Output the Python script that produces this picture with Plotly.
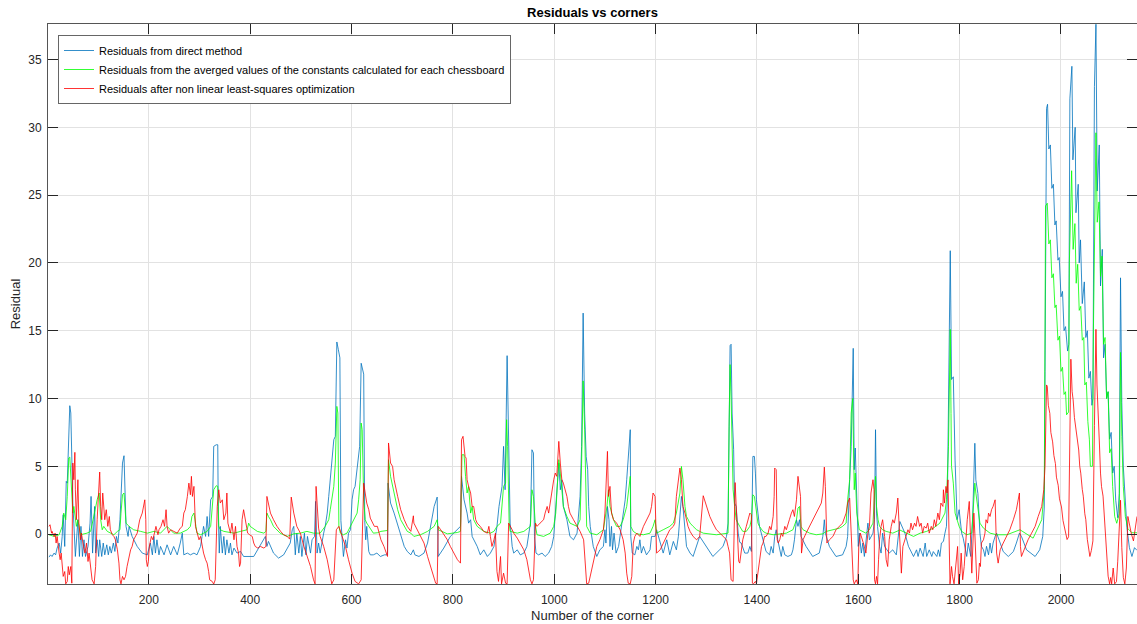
import plotly.graph_objects as go

# ---- data: (corner index, residual) ----
blue_points = [(3,-1.70),(6,-1.53),(9,-1.65),(13,-1.40),(16,-1.53),(19,-1.03),(23,-0.66),(26,-1.40),(29,-0.17),(31,1.43),(34,-0.91),(37,3.89),(39,3.76),(41,5.98),(44,9.47),(46,8.93),(48,4.0),(50,2.29),(52,0.81),(55,-1.65),(60,1.06),(63,-1.65),(66,0.57),(69,-1.65),(72,-0.42),(75,-1.65),(80,-0.91),(84,0.81),(86,2.78),(89,-1.40),(93,2.04),(95,-1.40),(98,-0.42),(101,-1.65),(103,-0.42),(107,-1.65),(110,-0.66),(113,-1.53),(117,-0.79),(120,-1.53),(123,-0.91),(126,-1.40),(130,-0.66),(133,-1.28),(136,-0.17),(139,-0.66),(143,1.06),(145,3.27),(148,5.24),(151,5.78),(153,2.04),(155,0.57),(159,-0.17),(161,0.57),(167,-0.17),(177,-0.91),(187,-1.40),(197,-1.53),(203,-0.66),(207,-1.53),(210,-0.17),(213,-1.40),(216,-0.42),(220,-1.53),(223,-0.91),(230,-1.53),(236,-0.79),(243,-1.53),(249,-0.91),(256,-1.53),(262,-0.66),(266,0.07),(269,-1.53),(276,-1.40),(282,-1.53),(289,-1.40),(295,-1.53),(302,-0.91),(305,-0.17),(308,0.57),(312,-0.17),(315,1.30),(318,-0.17),(322,2.53),(326,2.78),(328,6.47),(333,6.59),(336,6.59),(337,1.55),(339,-1.40),(341,0.57),(345,-1.40),(348,-0.17),(351,-1.53),(354,-0.42),(358,-1.40),(361,-0.66),(364,-1.53),(368,-1.03),(374,-1.40),(381,-1.28),(387,-1.65),(407,-1.65),(427,-0.42),(430,-0.17),(433,-0.91),(436,-0.54),(446,-1.40),(456,-1.77),(466,-1.53),(479,-0.66),(483,0.32),(486,0.57),(489,-1.53),(492,0.07),(496,-1.40),(499,-0.17),(502,-1.65),(507,0.07),(510,-1.53),(513,-0.17),(519,-1.40),(522,-0.42),(527,-0.17),(529,2.41),(532,-1.40),(535,-0.66),(538,-1.40),(542,-0.42),(545,0.07),(548,0.57),(552,1.55),(555,2.78),(558,4.01),(561,5.24),(565,6.96),(568,7.21),(571,14.17),(574,13.6),(577,13.0),(579,1.0),(581,-0.17),(584,-1.65),(588,-0.42),(591,-1.03),(594,0.07),(598,0.32),(601,2.53),(604,3.27),(607,3.52),(611,4.75),(614,5.73),(616,6.47),(619,12.6),(622,12.1),(624,11.8),(626,1.0),(628,-0.42),(630,0.57),(634,-1.28),(637,-1.53),(643,-1.53),(650,-1.40),(657,-1.65),(665,-1.53),(671,-1.53),(672,3.76),(677,2.29),(684,1.55),(690,0.81),(697,-0.17),(704,-0.91),(710,-1.28),(717,-1.53),(722,-1.16),(725,-1.53),(733,-1.65),(743,-1.40),(750,-0.66),(756,0.57),(763,2.04),(769,2.73),(771,-1.65),(782,-1.03),(795,-0.17),(815,0.57),(817,4.26),(822,2.53),(828,1.55),(831,0.81),(835,1.06),(838,-0.17),(848,-0.91),(854,-1.53),(861,-1.16),(868,-1.65),(874,-1.40),(881,-0.91),(884,-0.17),(887,0.57),(891,2.04),(894,2.90),(897,3.52),(900,6.47),(903,3.27),(907,13.16),(910,6.47),(913,0.81),(917,-0.91),(920,-1.40),(927,-1.16),(933,-1.53),(940,-1.40),(946,-0.91),(953,0.81),(956,6.22),(959,5.98),(961,-0.17),(964,-1.40),(969,-1.53),(976,-1.40),(982,-1.65),(989,-1.40),(995,-0.91),(999,-0.17),(1002,1.55),(1005,3.52),(1009,5.24),(1012,3.27),(1015,4.01),(1018,2.04),(1025,1.06),(1031,-0.17),(1038,-0.42),(1045,0.07),(1051,2.78),(1054,6.47),(1057,16.3),(1060,8.93),(1063,5.73),(1066,4.75),(1068,2.04),(1071,0.57),(1074,-0.17),(1077,-0.91),(1084,-1.65),(1090,-1.16),(1097,-0.91),(1100,0.32),(1102,-0.66),(1105,2.04),(1108,1.06),(1110,-0.91),(1113,0.57),(1115,-1.16),(1118,0.07),(1122,-1.40),(1127,-0.91),(1130,-0.17),(1133,0.57),(1136,1.55),(1140,2.53),(1143,4.01),(1146,5.73),(1150,7.70),(1151,-0.17),(1154,-1.40),(1159,-1.53),(1163,-0.91),(1166,-1.16),(1169,-0.42),(1172,-1.40),(1176,-0.91),(1182,-1.53),(1189,-1.16),(1192,-0.17),(1199,-0.17),(1202,0.32),(1215,-1.40),(1222,-0.42),(1228,-1.53),(1235,-0.54),(1241,-1.16),(1245,-0.17),(1251,2.78),(1254,2.04),(1261,-0.91),(1268,-1.40),(1274,-1.65),(1287,-0.17),(1313,-1.65),(1333,-0.91),(1340,-0.17),(1343,0.81),(1345,7.7),(1347,13.9),(1349,14.0),(1351,8.93),(1354,6.22),(1356,2.29),(1359,2.04),(1363,0.07),(1366,-0.6),(1369,-0.66),(1376,-1.40),(1382,-1.40),(1386,-0.91),(1389,-1.28),(1392,5.73),(1395,5.73),(1397,4.50),(1399,2.53),(1402,1.55),(1405,0.57),(1412,-0.42),(1418,-1.28),(1425,-1.53),(1428,-0.91),(1432,-1.40),(1435,-0.17),(1438,0.32),(1441,-0.42),(1448,-1.65),(1451,-0.91),(1455,-1.53),(1461,-1.65),(1468,-1.53),(1471,-1.16),(1474,-0.42),(1478,1.06),(1481,0.57),(1484,1.06),(1487,-0.17),(1497,-0.91),(1510,-1.65),(1523,-1.40),(1530,-0.17),(1533,1.06),(1535,0.07),(1543,-0.91),(1556,-1.65),(1569,-1.53),(1576,-0.91),(1579,-0.17),(1583,4.01),(1586,6.47),(1590,13.7),(1592,4.75),(1594,6.35),(1597,2.29),(1600,-0.91),(1602,0.07),(1606,-1.40),(1609,-0.66),(1612,-1.65),(1619,0.81),(1622,-0.42),(1629,0.07),(1632,1.06),(1634,7.7),(1636,1.55),(1638,0.57),(1642,-0.91),(1645,-1.40),(1648,0.07),(1652,-0.91),(1661,-1.40),(1668,-1.16),(1675,-1.53),(1682,0.93),(1692,0.07),(1699,-0.9),(1709,-1.65),(1715,-1.16),(1718,-1.65),(1722,-1.04),(1728,-1.65),(1732,-0.66),(1735,-1.65),(1740,-1.16),(1745,-1.65),(1748,-1.29),(1755,-1.65),(1758,-1.16),(1761,-1.65),(1764,-0.66),(1768,-0.54),(1771,0.07),(1774,0.57),(1776,3.0),(1778,8.4),(1781.5,20.9),(1784,11.4),(1787.5,11.6),(1791,5.4),(1795,1.06),(1799,1.8),(1804,0.07),(1807,-0.3),(1810,-0.9),(1814,-1.65),(1817,-0.66),(1822,-1.65),(1826,1.55),(1830,6.7),(1832,4.0),(1836,3.0),(1838,1.55),(1840,0.07),(1843,-0.9),(1847,-1.16),(1850,-1.65),(1853,-0.9),(1857,-1.53),(1860,-0.66),(1863,-1.4),(1866,-0.66),(1870,-0.17),(1873,0.07),(1880,-0.66),(1886,-1.29),(1896,-1.65),(1906,-1.29),(1912,-0.66),(1918,0.07),(1922,-0.17),(1932,-1.16),(1949,-1.65),(1958,-1.16),(1964,-0.17),(1967,2.0),(1968.5,12.0),(1971.5,31.4),(1973.5,31.7),(1976,28.4),(1979,28.7),(1982,25.5),(1985,25.8),(1988,22.8),(1990.5,23.1),(1994,20.2),(1996.5,20.4),(2000,17.5),(2003,17.9),(2006,15.0),(2009,15.3),(2013,13.5),(2015.5,14.0),(2017.5,32.1),(2021.5,34.5),(2023.5,27.6),(2028,30.0),(2029.5,23.7),(2034,25.8),(2036,20.0),(2038.5,21.7),(2042,17.0),(2046,18.6),(2049,14.5),(2052,15.0),(2055,11.5),(2058,12.0),(2061,9.5),(2063,10.0),(2066,33.0),(2069,37.6),(2071.5,25.3),(2075.5,28.7),(2078,18.3),(2081.5,21.0),(2084,13.0),(2087,14.0),(2090,10.0),(2093,10.5),(2096,7.0),(2099,7.5),(2102,4.5),(2105,5.0),(2108,2.5),(2112,1.2),(2115,3.0),(2117.5,18.9),(2120,9.7),(2123,5.0),(2126,3.0),(2130,0.5),(2135,-1.0),(2140,-1.65),(2145,-1.0),(2150,-1.2)]

green_points = [(3,-0.05),(13,-0.17),(23,-0.05),(26,0.20),(29,0.57),(32,1.55),(36,1.06),(39,2.78),(42,5.61),(44,5.68),(46,4.50),(48,2.78),(50,1.55),(52,2.04),(55,0.81),(57,0.57),(60,1.06),(63,0.20),(65,-0.05),(78,0.07),(85,0.20),(90,1.06),(95,2.04),(98,2.53),(102,3.03),(105,1.06),(108,0.32),(111,0.57),(118,0.20),(124,0.07),(131,-0.05),(138,0.20),(143,0.32),(145,1.55),(148,2.90),(151,3.03),(153,1.55),(155,0.81),(161,0.57),(170,0.32),(184,0.20),(197,0.07),(210,0.20),(223,0.07),(236,0.57),(249,0.07),(262,0.07),(276,0.32),(282,0.57),(285,1.30),(289,1.55),(292,0.57),(295,0.07),(302,-0.05),(315,0.20),(322,0.57),(328,3.27),(333,3.57),(336,3.52),(338,0.57),(341,0.32),(348,0.20),(368,0.07),(381,0.20),(394,0.32),(397,0.81),(400,0.57),(414,0.20),(427,0.07),(431,0.20),(433,1.55),(436,1.30),(440,1.06),(446,0.57),(459,0.07),(473,-0.17),(486,0.02),(499,0.07),(512,0.20),(525,0.07),(538,0.07),(548,0.57),(555,1.06),(558,1.80),(561,2.53),(565,3.52),(568,5.24),(571,9.42),(573,8.93),(575,0.57),(578,0.07),(584,-0.05),(591,0.07),(598,0.57),(604,1.06),(611,1.55),(614,2.53),(617,4.01),(619,8.19),(621,7.70),(624,2.53),(627,1.06),(630,0.81),(637,0.44),(643,0.07),(651,0.10),(658,0.20),(671,0.27),(673,5.49),(677,4.26),(684,3.03),(691,1.80),(697,1.06),(704,0.57),(710,0.20),(717,0.07),(723,-0.17),(736,-0.05),(750,0.20),(763,0.57),(769,1.06),(771,0.32),(789,0.02),(809,0.12),(815,0.20),(818,5.85),(822,5.85),(825,4.26),(828,3.03),(831,3.52),(835,1.55),(838,2.04),(841,1.06),(848,0.57),(861,0.20),(874,0.07),(881,0.20),(887,0.57),(894,0.81),(900,3.52),(904,3.76),(906,8.44),(908,6.47),(911,0.81),(913,0.20),(927,0.07),(940,0.20),(953,0.57),(956,3.27),(959,2.78),(963,0.57),(966,-0.05),(979,-0.17),(992,0.07),(999,0.57),(1003,1.55),(1005,3.27),(1009,5.49),(1012,4.50),(1015,3.27),(1018,2.04),(1025,1.30),(1031,0.81),(1045,0.57),(1051,1.06),(1054,5.24),(1057,11.3),(1060,7.70),(1064,0.57),(1071,0.07),(1084,-0.05),(1097,0.32),(1104,2.04),(1107,3.27),(1110,2.04),(1117,1.06),(1123,0.57),(1130,0.57),(1136,1.06),(1143,2.04),(1150,4.26),(1151,0.57),(1156,0.20),(1163,0.02),(1176,-0.05),(1189,0.07),(1195,0.57),(1199,1.06),(1202,0.07),(1215,0.32),(1228,0.57),(1235,0.81),(1241,1.55),(1248,3.03),(1251,4.99),(1254,4.01),(1258,2.04),(1261,1.30),(1268,0.81),(1274,0.57),(1281,0.32),(1287,0.20),(1294,0.07),(1320,-0.05),(1343,0.07),(1345,7.95),(1347,12.5),(1349,10.0),(1353,3.27),(1356,2.04),(1359,1.06),(1366,0.57),(1372,0.20),(1379,0.20),(1386,0.57),(1389,1.06),(1392,2.90),(1395,2.78),(1399,1.55),(1402,0.81),(1405,0.57),(1412,0.20),(1418,0.07),(1432,-0.05),(1458,0.07),(1471,0.32),(1478,1.06),(1481,1.92),(1484,2.04),(1487,0.57),(1491,0.32),(1504,0.07),(1517,-0.05),(1530,0.02),(1537,0.20),(1550,0.32),(1563,0.44),(1569,0.57),(1576,0.81),(1579,2.53),(1583,4.01),(1586,8.93),(1589,10.0),(1592,3.27),(1594,4.50),(1597,1.55),(1600,0.57),(1602,0.32),(1615,0.07),(1622,0.32),(1629,0.81),(1632,3.03),(1634,4.26),(1636,2.04),(1639,1.06),(1642,0.57),(1648,0.32),(1655,0.20),(1668,0.07),(1682,0.3),(1695,0.07),(1709,-0.17),(1722,0.07),(1735,0.20),(1748,0.44),(1761,0.81),(1771,1.55),(1774,2.53),(1778,6.47),(1781.5,15.1),(1783,8.9),(1784,4.99),(1787.5,3.76),(1791,1.55),(1795,1.06),(1799,0.57),(1804,0.20),(1814,-0.05),(1824,0.07),(1827,1.55),(1830,3.76),(1832,3.03),(1836,1.80),(1840,0.81),(1847,0.44),(1860,0.07),(1873,-0.05),(1893,-0.05),(1919,0.32),(1945,-0.30),(1962,1.06),(1967,3.27),(1968.5,15.0),(1969.5,24.2),(1973,24.4),(1976,21.4),(1979,21.7),(1982,18.9),(1985,19.2),(1988,16.7),(1990.5,16.9),(1994,14.3),(1997,14.6),(2000,12.0),(2003,12.3),(2006,10.3),(2009,10.5),(2011,8.8),(2015,9.0),(2016.5,20.0),(2021,26.8),(2024,21.0),(2027.5,22.9),(2030,18.5),(2033,19.9),(2036,16.5),(2039,16.8),(2042,14.3),(2045,14.5),(2047,11.0),(2050,11.2),(2053,8.3),(2056,7.0),(2058,5.0),(2062,5.0),(2064,15.0),(2069,29.6),(2071.5,23.0),(2075,24.5),(2078,19.0),(2081,20.5),(2084,14.0),(2087,14.5),(2090,10.0),(2093,10.5),(2096,6.0),(2099,6.3),(2102,3.5),(2106,1.3),(2110,0.8),(2115,1.5),(2117.5,13.4),(2120,7.2),(2123,3.5),(2127,1.3),(2132,0.4),(2140,0.1),(2150,0.1)]

red_points = [(3,0.57),(5,0.69),(8,0.07),(9,0.20),(13,-0.17),(15,0.07),(17,-0.66),(19,-0.17),(23,-1.40),(25,-1.89),(27,-1.40),(29,-2.63),(31,-3.12),(34,-2.76),(36,-3.67),(39,-3.49),(41,-2.39),(43,-3.0),(46,-2.39),(48,-3.62),(50,5.24),(52,4.01),(54,6.03),(55,3.27),(57,1.06),(60,4.01),(62,0.81),(65,-0.42),(67,0.07),(71,-0.91),(74,-1.40),(77,-0.66),(80,-2.02),(82,-1.40),(85,-2.39),(88,-3.37),(92,-3.67),(95,-2.39),(98,1.06),(101,3.27),(103,4.58),(105,2.04),(107,1.06),(109,3.03),(111,1.55),(113,1.06),(116,1.80),(119,0.57),(122,1.30),(124,0.32),(128,-0.05),(131,-0.17),(134,-0.42),(138,-1.16),(141,-2.14),(143,-3.37),(145,-3.67),(148,-3.12),(151,-3.37),(154,-3.12),(157,-2.39),(161,-1.65),(164,-1.16),(167,-0.91),(170,-0.42),(177,0.07),(182,1.06),(187,1.55),(190,2.29),(192,2.53),(194,1.06),(195,-1.89),(197,-2.39),(199,-2.02),(201,-0.91),(205,-0.17),(208,-0.42),(211,0.07),(214,0.57),(218,-0.05),(220,0.32),(224,0.57),(228,1.06),(231,0.57),(234,1.80),(236,0.57),(239,0.07),(243,0.32),(249,0.20),(256,0.07),(262,0.44),(266,0.57),(269,1.55),(272,1.80),(276,2.78),(279,3.76),(282,2.90),(284,4.26),(286,2.78),(289,3.52),(292,0.57),(295,0.07),(299,-0.42),(302,-0.17),(305,-0.91),(308,-1.40),(312,-1.89),(315,-2.14),(318,-2.76),(320,-3.37),(325,-3.49),(328,-3.69),(331,-3.37),(335,2.04),(338,3.27),(341,2.29),(345,2.53),(348,1.06),(352,1.55),(354,3.03),(356,0.81),(361,0.07),(364,0.81),(368,-0.42),(371,0.57),(374,-0.91),(377,-1.40),(379,-2.39),(381,-2.14),(384,1.06),(387,1.80),(390,1.06),(393,0.57),(395,0.07),(399,-0.05),(404,-0.17),(407,-0.66),(410,-0.91),(415,-1.03),(420,-0.91),(427,-1.03),(431,-0.91),(433,2.78),(437,2.04),(440,1.55),(446,1.06),(453,0.57),(460,0.20),(466,-0.05),(473,-0.17),(478,-0.37),(481,2.73),(486,1.55),(492,0.57),(499,0.07),(506,-0.91),(512,-1.65),(519,-2.39),(525,-3.37),(528,-3.67),(530,3.52),(533,1.06),(535,0.44),(538,-0.17),(545,-0.91),(552,-1.89),(558,-3.12),(561,-3.67),(565,-3.37),(570,0.32),(575,0.57),(581,-0.17),(588,-0.91),(594,-1.89),(601,-2.88),(607,-3.49),(614,-3.67),(619,-3.37),(624,3.76),(630,2.29),(634,1.80),(637,1.18),(645,0.57),(651,0.57),(654,0.07),(658,-0.42),(664,-0.91),(671,-1.65),(673,6.72),(677,5.24),(681,4.99),(684,4.01),(691,2.78),(697,1.80),(704,1.06),(710,0.57),(717,0.20),(722,1.35),(723,0.81),(730,0.32),(736,-0.17),(743,-0.66),(750,-1.65),(756,-2.39),(763,-3.12),(766,-3.62),(769,-3.67),(771,0.57),(776,0.32),(782,-0.05),(789,-0.42),(795,-0.91),(802,-1.40),(809,-1.89),(815,-2.14),(817,6.96),(820,7.21),(824,5.73),(826,5.61),(828,4.01),(831,3.52),(835,3.03),(838,2.04),(841,2.04),(845,1.06),(848,0.81),(854,0.57),(861,0.20),(868,0.07),(871,0.57),(874,-0.17),(877,-0.91),(881,-0.42),(884,0.07),(887,-2.76),(890,-3.49),(894,-1.65),(896,-3.67),(900,-2.88),(904,-3.62),(907,-3.67),(910,0.81),(917,0.32),(920,0.07),(927,-0.30),(933,-0.66),(940,-1.16),(946,-1.89),(953,-3.37),(956,-3.67),(959,-3.37),(963,0.81),(966,0.57),(972,0.81),(979,1.06),(982,1.55),(986,2.04),(989,1.55),(992,2.53),(995,3.03),(999,4.01),(1002,4.50),(1005,4.26),(1009,6.84),(1012,5.24),(1015,4.01),(1018,3.76),(1022,3.27),(1025,2.78),(1028,2.04),(1031,1.55),(1038,1.06),(1045,0.57),(1051,0.20),(1058,-0.42),(1061,-1.89),(1064,-3.67),(1068,-3.62),(1071,-3.12),(1077,-1.89),(1084,-0.91),(1090,-0.42),(1097,0.32),(1100,1.55),(1102,3.76),(1105,6.10),(1107,2.78),(1110,3.52),(1113,1.55),(1117,1.06),(1123,0.81),(1130,0.32),(1136,-0.42),(1140,-1.40),(1143,-2.88),(1146,-3.62),(1150,-3.67),(1153,-3.12),(1156,-0.66),(1159,-0.17),(1163,0.07),(1169,-0.17),(1176,0.57),(1182,1.06),(1189,1.55),(1192,2.04),(1195,3.03),(1199,2.78),(1201,-0.91),(1202,-1.40),(1209,-1.16),(1215,-0.66),(1222,-0.17),(1228,0.32),(1235,0.57),(1238,0.81),(1241,2.78),(1245,4.01),(1248,4.87),(1251,4.01),(1254,2.04),(1258,1.55),(1261,1.06),(1264,0.57),(1268,0.20),(1274,-0.17),(1281,-0.42),(1287,-0.17),(1294,2.83),(1300,2.04),(1307,1.30),(1313,0.81),(1320,0.32),(1327,0.07),(1333,-0.17),(1340,-0.42),(1343,-0.91),(1346,-1.40),(1349,-3.37),(1353,-3.49),(1357,3.8),(1360,1.0),(1364,-2.0),(1366,-2.14),(1372,-0.42),(1379,0.57),(1382,1.06),(1386,1.55),(1389,1.43),(1391,-3.62),(1393,-3.67),(1397,-3.49),(1399,-3.67),(1402,-2.88),(1405,-1.89),(1409,-0.91),(1412,-0.66),(1415,-0.17),(1418,-0.17),(1422,0.07),(1425,0.57),(1428,0.32),(1432,1.30),(1434,2.78),(1435,4.87),(1438,4.75),(1440,-0.42),(1442,-0.66),(1445,-0.42),(1448,0.07),(1451,-0.17),(1455,0.57),(1458,0.32),(1461,0.81),(1464,1.06),(1468,1.55),(1471,1.80),(1474,1.30),(1478,2.53),(1481,4.26),(1484,3.03),(1486,2.78),(1488,-1.40),(1491,-0.42),(1497,0.07),(1504,0.57),(1510,1.06),(1517,1.55),(1523,2.04),(1527,2.29),(1530,3.03),(1533,4.94),(1535,3.52),(1538,-0.66),(1543,-0.42),(1550,-0.17),(1556,0.32),(1563,0.57),(1569,0.81),(1576,1.55),(1579,2.29),(1583,2.66),(1586,-0.17),(1588,-1.89),(1590,-3.37),(1592,-3.67),(1596,-3.37),(1599,-3.67),(1601,-0.91),(1604,0.07),(1606,-0.17),(1609,-0.42),(1612,-0.91),(1615,-1.40),(1619,0.07),(1622,0.57),(1625,3.03),(1629,4.01),(1631,3.27),(1632,-3.37),(1634,-3.67),(1636,-3.12),(1638,-3.67),(1640,-1.89),(1642,-0.42),(1645,0.57),(1648,1.06),(1652,-0.17),(1655,-1.89),(1658,-2.39),(1661,-0.42),(1665,0.57),(1668,1.06),(1671,0.81),(1675,1.55),(1678,2.66),(1680,1.06),(1682,-1.40),(1685,-2.88),(1688,-0.91),(1691,-0.42),(1694,-0.17),(1698,0.32),(1701,0.07),(1704,0.81),(1707,0.32),(1711,0.81),(1714,0.57),(1717,1.30),(1721,0.57),(1724,0.81),(1727,0.07),(1730,0.57),(1734,0.44),(1737,0.81),(1740,0.07),(1744,0.57),(1747,0.32),(1750,1.06),(1753,0.57),(1757,1.55),(1760,1.06),(1763,2.29),(1767,2.04),(1768,3.27),(1770,2.29),(1773,3.52),(1775,3.03),(1777,4.0),(1779,-0.5),(1781,-3.67),(1784,-2.39),(1786,-3.12),(1789,-3.67),(1793,-2.14),(1796,-0.91),(1798,-3.67),(1801,-2.88),(1803,-1.40),(1806,-3.37),(1809,-2.39),(1812,-0.42),(1815,1.06),(1819,2.41),(1822,-1.65),(1824,-2.88),(1827,0.07),(1828,1.55),(1830,0.07),(1834,-3.62),(1837,-3.37),(1839,-2.14),(1841,-2.39),(1843,-0.66),(1847,-0.42),(1850,0.07),(1852,1.06),(1855,0.81),(1857,1.55),(1860,1.30),(1863,1.80),(1866,2.04),(1870,2.53),(1872,0.57),(1873,-1.40),(1876,-2.14),(1880,-1.16),(1886,-0.66),(1893,-0.17),(1899,0.32),(1906,1.06),(1912,1.80),(1918,3.03),(1920,-0.91),(1922,-1.65),(1929,-0.91),(1935,-0.42),(1942,0.07),(1949,0.57),(1955,1.30),(1962,2.04),(1966,3.27),(1968.5,5.0),(1971.5,11.0),(1973,10.9),(1975,9.5),(1978,8.9),(1980,7.5),(1983.5,6.8),(1986,5.8),(1989,5.2),(1991,4.2),(1994.5,3.6),(1997,2.6),(2001,2.0),(2004,1.0),(2008,0.3),(2012,-0.4),(2015,-0.2),(2019.5,12.9),(2022,10.5),(2024,9.9),(2026.5,8.6),(2029,7.9),(2032,6.8),(2035,6.2),(2037,5.0),(2039,4.5),(2042,3.3),(2044,2.8),(2047,1.5),(2049,1.06),(2052,-0.4),(2057,-1.65),(2060,-1.2),(2063,-0.5),(2066,8.0),(2069,15.1),(2071,11.0),(2073.5,7.9),(2076,6.5),(2078,4.5),(2080,3.5),(2083,2.8),(2086.5,0.8),(2088,-0.5),(2090,-1.4),(2093,-3.1),(2096,-3.67),(2098,-3.2),(2100,-3.67),(2103,-2.5),(2106,-3.67),(2109.5,-3.5),(2112,-2.0),(2115,0.5),(2117.5,2.5),(2120,-1.0),(2123,-3.2),(2126,-3.67),(2129,-2.5),(2132,1.3),(2136,0.5),(2139,0.0),(2143,-0.5),(2146,0.3),(2150,1.3)]

series_names = [
    "Residuals from direct method",
    "Residuals from the averged values of the constants calculated for each chessboard",
    "Residuals after non linear least-squares optimization",
]
series_colors = ["#0072BD", "#00FF00", "#FF0000"]
x_ticks = [200, 400, 600, 800, 1000, 1200, 1400, 1600, 1800, 2000]
y_ticks = [0, 5, 10, 15, 20, 25, 30, 35]

FONT = "Liberation Sans, Arial, Helvetica, sans-serif"
AX = "#262626"
GRID = "#e2e2e2"

fig = go.Figure()
for pts, name, col in zip([blue_points, green_points, red_points], series_names, series_colors):
    xs, ys = zip(*pts)
    fig.add_trace(go.Scatter(x=list(xs), y=list(ys), mode="lines", name=name,
                             line=dict(color=col, width=0.8)))

fig.update_layout(
    width=1137, height=624,
    margin=dict(l=48, r=0, t=24, b=40),
    paper_bgcolor="white", plot_bgcolor="white",
    font=dict(family=FONT, size=12, color=AX),
    title=dict(text="<b>Residuals vs corners</b>", x=0.5, xref="paper",
               y=(624 - 12) / 624, yref="container", yanchor="middle",
               xanchor="center", font=dict(size=13, color="black", family=FONT)),
    showlegend=True,
    legend=dict(x=(58 - 48) / 1089, y=(584 - 35) / 560, xanchor="left", yanchor="top",
                bgcolor="white", bordercolor="#666666", borderwidth=1,
                font=dict(size=11, color="black", family=FONT),
                tracegroupgap=0),
    xaxis=dict(range=[1, 2150], tickvals=x_ticks, ticks="inside", ticklen=10,
               tickcolor=AX, showline=True, linecolor="#555555", linewidth=1,
               mirror="ticks", showgrid=True, gridcolor=GRID, gridwidth=1,
               zeroline=False, automargin=False, ticklabelstandoff=5,
               tickfont=dict(size=12, color=AX),
               title=dict(text="Number of the corner", standoff=4,
                          font=dict(size=13, color=AX))),
    yaxis=dict(range=[-3.68, 37.62], tickvals=y_ticks, ticks="inside", ticklen=10,
               tickcolor=AX, showline=True, linecolor="#555555", linewidth=1,
               mirror="ticks", showgrid=True, gridcolor=GRID, gridwidth=1,
               zeroline=False, automargin=False, ticklabelstandoff=3,
               tickfont=dict(size=12, color=AX),
               title=dict(text="Residual", standoff=4,
                          font=dict(size=13, color=AX))),
)

fig.write_html("out.html", config={"displayModeBar": False},
               post_script="document.body.style.margin='0';document.body.style.overflow='hidden';")
